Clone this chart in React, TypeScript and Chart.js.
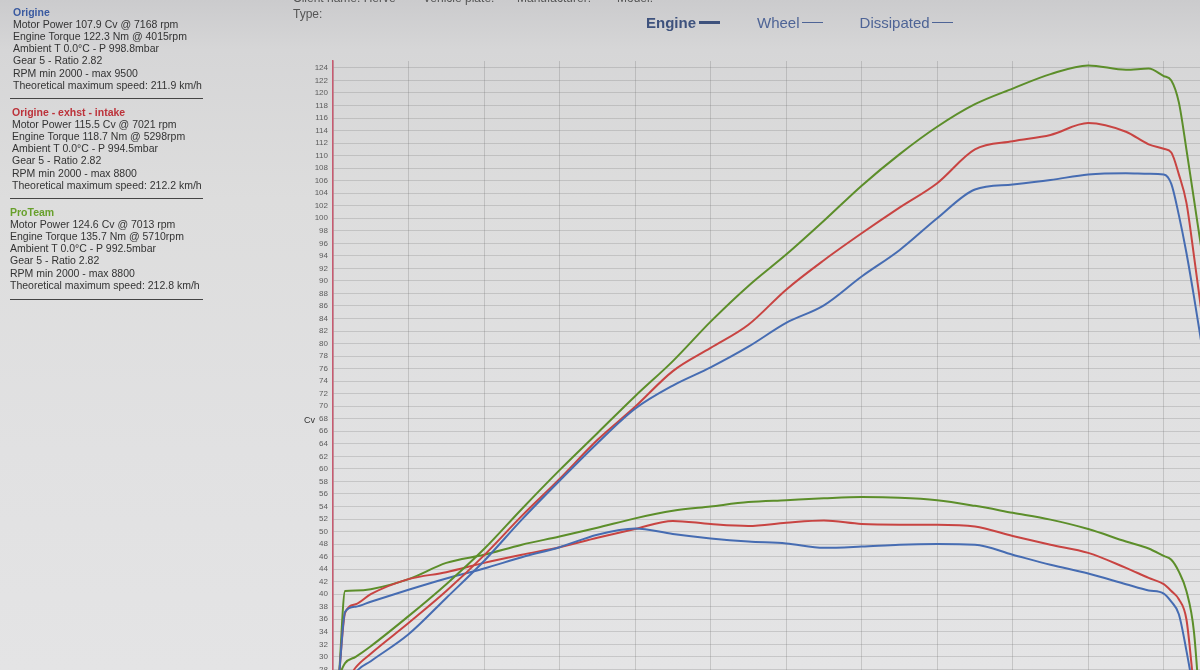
import React, { useEffect, useRef } from "react";
import { Chart, registerables } from "chart.js";

Chart.register(...registerables);

// Engine speed (rpm) sampled along the curves
const rpm = [
  2040, 2080, 2150, 2250, 2500, 2750, 3000, 3250, 3500, 3750, 4000, 4250, 4500,
  4750, 5000, 5250, 5500, 5750, 6000, 6250, 6500, 6750, 7000, 7250, 7400, 7500,
  7550, 7600, 7650, 7700, 7750,
];

// Vertical grid lines (rpm)
const rpmGrid = [2000, 2500, 3000, 3500, 4000, 4500, 5000, 5500, 6000, 6500, 7000, 7500];

// Power curves (Cv)
const originePower = [
  22, 24, 27.5, 29.3, 33.6, 39.4, 45.3, 51.9, 58.1, 64.1, 69.6, 73.3, 76.2,
  79.5, 83.3, 86.1, 90.7, 94.9, 100.0, 104.6, 105.4, 106.1, 107.0, 107.2, 107.1, 107.0,
  105.5, 100.5, 94.5, 87.5, 80,
];
const exhaustPower = [
  24, 25.5, 28.3, 30.5, 35.4, 40.5, 46.2, 52.5, 58.4, 64.6, 69.9, 75.6, 79.3,
  83.0, 88.6, 93.3, 97.6, 101.7, 105.6, 111.0, 112.3, 113.3, 115.2, 113.8, 111.8, 111.1,
  110.5, 107.0, 102.5, 94.0, 85,
];
const proteamPower = [
  27, 29.0, 30.0, 31.7, 36.5, 41.6, 47.2, 53.6, 59.8, 65.7, 71.6, 77.2, 83.5,
  89.2, 94.2, 99.6, 105.2, 110.2, 114.6, 118.2, 120.7, 123.0, 124.4, 123.7, 123.9, 122.7,
  122.0, 118.5, 111.0, 103.0, 95,
];

// Lower curves (torque trace on the same sheet)
const origineTorque = [
  27, 37.2, 38.0, 38.8, 40.7, 42.5, 44.1, 45.9, 47.5, 49.5, 50.5, 49.6, 48.9,
  48.4, 48.1, 47.4, 47.6, 47.9, 48.0, 47.9, 46.3, 44.7, 43.3, 41.6, 40.6, 40.1,
  38.8, 36.8, 31.0, 24, 15,
];
const exhaustTorque = [
  27, 37.0, 38.4, 40.0, 42.4, 43.5, 45.0, 46.3, 47.5, 49.0, 50.4, 51.7, 51.2,
  50.9, 51.4, 51.75, 51.2, 51.1, 51.1, 50.8, 49.3, 47.9, 46.6, 44.2, 42.6, 41.6,
  40.5, 39.2, 36.0, 25, 15,
];
const proteamTorque = [
  27, 40.5, 40.6, 40.8, 42.4, 45.0, 46.3, 47.9, 49.2, 50.6, 52.1, 53.3, 54.0,
  54.7, 55.0, 55.3, 55.5, 55.4, 55.0, 54.1, 53.0, 51.9, 50.4, 48.4, 47.3, 46.1,
  45.5, 43.6, 40.5, 34, 18,
];

const blue = "rgb(70,108,178)";
const red = "rgb(200,68,66)";
const green = "rgb(92,142,42)";

const infoBlocks = [
  {
    title: "Origine",
    color: "rgb(58,90,160)",
    lines: [
      "Motor Power 107.9 Cv  @ 7168 rpm",
      "Engine Torque 122.3 Nm  @ 4015rpm",
      "Ambient T 0.0°C - P 998.8mbar",
      "Gear 5 - Ratio 2.82",
      "RPM min 2000 - max 9500",
      "Theoretical maximum speed: 211.9 km/h",
    ],
  },
  {
    title: "Origine - exhst - intake",
    color: "rgb(188,50,58)",
    lines: [
      "Motor Power 115.5 Cv  @ 7021 rpm",
      "Engine Torque 118.7 Nm  @ 5298rpm",
      "Ambient T 0.0°C - P 994.5mbar",
      "Gear 5 - Ratio 2.82",
      "RPM min 2000 - max 8800",
      "Theoretical maximum speed: 212.2 km/h",
    ],
  },
  {
    title: "ProTeam",
    color: "rgb(104,160,44)",
    lines: [
      "Motor Power 124.6 Cv  @ 7013 rpm",
      "Engine Torque 135.7 Nm  @ 5710rpm",
      "Ambient T 0.0°C - P 992.5mbar",
      "Gear 5 - Ratio 2.82",
      "RPM min 2000 - max 8800",
      "Theoretical maximum speed: 212.8 km/h",
    ],
  },
];

const font = '"Liberation Sans", Arial, sans-serif';

export default function App() {
  const ref = useRef<HTMLCanvasElement>(null);

  useEffect(() => {
    document.body.style.margin = "0";
    const xy = (vals: number[]) => rpm.map((x, i) => ({ x, y: vals[i] }));
    const ds = (label: string, vals: number[], color: string) => ({
      label,
      data: xy(vals),
      borderColor: color,
      backgroundColor: color,
      borderWidth: 2,
      pointRadius: 0,
      cubicInterpolationMode: "monotone" as const,
      fill: false,
    });
    const chart = new Chart(ref.current as HTMLCanvasElement, {
      type: "line",
      data: {
        datasets: [
          ds("Origine", originePower, blue),
          ds("Origine - exhst - intake", exhaustPower, red),
          ds("ProTeam", proteamPower, green),
          ds("Origine torque", origineTorque, blue),
          ds("Origine - exhst - intake torque", exhaustTorque, red),
          ds("ProTeam torque", proteamTorque, green),
        ],
      },
      options: {
        animation: false,
        responsive: false,
        layout: { padding: { top: 61, bottom: 20, left: 0, right: 0 } },
        plugins: { legend: { display: false }, tooltip: { enabled: false } },
        scales: {
          x: {
            type: "linear",
            min: 2000,
            max: 7740,
            afterBuildTicks: (s: any) => {
              s.ticks = rpmGrid.map((v) => ({ value: v }));
            },
            ticks: { display: false },
            grid: { color: "rgba(110,110,110,0.26)", drawTicks: false, lineWidth: 1 },
            border: { display: false },
          },
          y: {
            min: 27.9,
            max: 125.1,
            afterFit: (s: any) => {
              s.width = 333;
            },
            ticks: {
              stepSize: 2,
              includeBounds: false,
              autoSkip: false,
              padding: 5,
              color: "#5c5c5c",
              font: { size: 8, family: font },
            },
            grid: { color: "rgba(110,110,110,0.24)", drawTicks: false, lineWidth: 1 },
            border: { color: "rgb(200,90,112)", width: 1.5 },
          },
        },
      },
    });
    return () => chart.destroy();
  }, []);

  const blockTops = [12, 112, 212];
  const blockLeft = [13, 12, 10];
  const sepY = [98, 198, 299];

  return (
    <div
      style={{
        position: "relative",
        width: 1200,
        height: 670,
        overflow: "hidden",
        fontFamily: font,
        background:
          "linear-gradient(180deg, #cbcbcd 0px, #d6d6d7 50px, #dddddd 200px, #e1e1e2 450px, #e4e4e5 670px)",
      }}
    >
      <canvas
        ref={ref}
        width={1200}
        height={690}
        style={{ position: "absolute", left: 0, top: 0, width: 1200, height: 690 }}
      />
      {infoBlocks.map((b, bi) => (
        <div key={b.title}>
          <div
            style={{
              position: "absolute",
              left: blockLeft[bi],
              top: blockTops[bi] - 6,
              fontSize: 10.5,
              lineHeight: "12px",
              fontWeight: "bold",
              color: b.color,
              whiteSpace: "nowrap",
            }}
          >
            {b.title}
          </div>
          {b.lines.map((l, li) => (
            <div
              key={li}
              style={{
                position: "absolute",
                left: blockLeft[bi],
                top: blockTops[bi] - 6 + (li + 1) * 12.1,
                fontSize: 10.5,
                lineHeight: "12px",
                color: "#333",
                whiteSpace: "nowrap",
              }}
            >
              {l}
            </div>
          ))}
          <div
            style={{
              position: "absolute",
              left: 10,
              top: sepY[bi],
              width: 193,
              height: 1,
              background: "#444",
            }}
          />
        </div>
      ))}
      <div style={{ position: "absolute", left: 293, top: -9, fontSize: 12, color: "#555", whiteSpace: "nowrap" }}>
        Client name: Hervé
      </div>
      <div style={{ position: "absolute", left: 423, top: -9, fontSize: 12, color: "#555", whiteSpace: "nowrap" }}>
        Vehicle plate:
      </div>
      <div style={{ position: "absolute", left: 517, top: -9, fontSize: 12, color: "#555", whiteSpace: "nowrap" }}>
        Manufacturer:
      </div>
      <div style={{ position: "absolute", left: 617, top: -9, fontSize: 12, color: "#555", whiteSpace: "nowrap" }}>
        Model:
      </div>
      <div style={{ position: "absolute", left: 293, top: 7, fontSize: 12, color: "#555" }}>Type:</div>
      <div
        style={{
          position: "absolute",
          left: 646,
          top: 14,
          fontSize: 15,
          color: "rgb(62,82,125)",
          whiteSpace: "nowrap",
          display: "flex",
          alignItems: "center",
        }}
      >
        <span style={{ fontWeight: "bold" }}>Engine</span>
        <span style={{ display: "inline-block", width: 21, height: 3, background: "rgb(62,82,125)", marginLeft: 3 }} />
        <span style={{ marginLeft: 37, color: "rgb(78,100,150)" }}>Wheel</span>
        <span style={{ display: "inline-block", width: 21, height: 1.5, background: "rgb(78,100,150)", marginLeft: 2 }} />
        <span style={{ marginLeft: 37, color: "rgb(78,100,150)" }}>Dissipated</span>
        <span style={{ display: "inline-block", width: 21, height: 1.5, background: "rgb(78,100,150)", marginLeft: 2 }} />
      </div>
      <div style={{ position: "absolute", left: 304, top: 415, fontSize: 9, color: "#333" }}>Cv</div>
    </div>
  );
}
